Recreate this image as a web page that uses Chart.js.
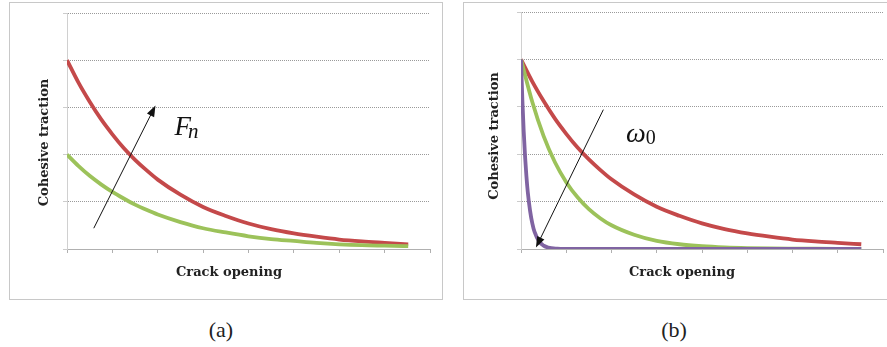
<!DOCTYPE html>
<html>
<head>
<meta charset="utf-8">
<script src="https://cdn.jsdelivr.net/npm/chart.js@4.4.1/dist/chart.umd.min.js"></script>
<style>
    html, body { margin: 0; padding: 0; background: #fff; overflow: hidden; }
    body { width: 887px; height: 347px; position: relative; }
    .box { position: absolute; border: 1px solid #c8c8c8; background: #fff; }
    .box canvas { position: absolute; left: 0; top: 0; }
    .caption { position: absolute; width: 60px; text-align: center; font: 22px "Liberation Serif", serif; color: #222; line-height: 22px; }
</style>
</head>
<body>
<div class="box" style="left:9px;top:2px;width:432px;height:296px">
    <canvas id="chartA" width="432" height="296"></canvas>
</div>
<div class="box" style="left:463px;top:2px;width:432px;height:296px">
    <canvas id="chartB" width="423" height="296"></canvas>
</div>
<div class="caption" style="left:191px;top:319px">(a)</div>
<div class="caption" style="left:644px;top:319px">(b)</div>

<script>
// values (crack opening in x-tick units, traction in gridline units)
const crackOpening = [0, 0.25, 0.5, 0.75, 1, 1.25, 1.5, 1.75, 2, 2.5, 3, 3.5, 4, 4.5, 5, 5.5, 6, 6.5, 7, 7.52];
const tractionRed = [4.00, 3.53, 3.12, 2.75, 2.43, 2.14, 1.89, 1.67, 1.47, 1.15, 0.89, 0.70, 0.54, 0.42, 0.33, 0.26, 0.20, 0.16, 0.13, 0.10];
const tractionGreenA = [2.00, 1.76, 1.55, 1.37, 1.21, 1.07, 0.94, 0.83, 0.73, 0.57, 0.44, 0.35, 0.27, 0.21, 0.17, 0.13, 0.10, 0.08, 0.07, 0.06];
const tractionGreenB = [4.00, 3.10, 2.38, 1.83, 1.41, 1.09, 0.84, 0.65, 0.50, 0.30, 0.17, 0.10, 0.06, 0.035, 0.02, 0.012, 0.008, 0.005, 0.003, 0.002];

const crackOpeningFine = [0, 0.03, 0.06, 0.09, 0.12, 0.15, 0.2, 0.25, 0.3, 0.4, 0.5, 0.6, 0.8, 1, 1.5, 2, 3, 4, 5, 6, 7, 7.52];
const tractionPurple = [4.00, 3.15, 2.48, 1.95, 1.53, 1.20, 0.81, 0.54, 0.36, 0.16, 0.07, 0.03, 0.006, 0.001, 0, 0, 0, 0, 0, 0, 0, 0];

const xTicks = [0, 1, 2, 3, 4, 5, 6, 7, 8];
const yTicks = [0, 1, 2, 3, 4, 5];

const RED = '#C4494A';
const GREEN = '#9CC25A';
const PURPLE = '#8064A2';

function toPoints(xs, ys) {
    return xs.map((x, i) => ({ x: x, y: ys[i] }));
}

function curve(xs, ys, color) {
    return {
        data: toPoints(xs, ys),
        borderColor: color,
        backgroundColor: color,
        borderWidth: 3.8,
        pointRadius: 0,
        cubicInterpolationMode: 'monotone',
        fill: false,
    };
}

/* titles, arrow and symbol drawn on top */
const annotatePlugin = {
    id: 'annotate',
    afterDraw(chart, args, opts) {
        const { ctx } = chart;
        const sx = chart.scales.x;
        const sy = chart.scales.y;

        ctx.save();
        ctx.fillStyle = '#222';
        ctx.font = 'bold 13px "DejaVu Serif"';
        ctx.textBaseline = 'alphabetic';
        ctx.textAlign = 'center';
        ctx.fillText(opts.xTitle.text, opts.xTitle.x, opts.xTitle.y);

        ctx.save();
        ctx.translate(opts.yTitle.x, opts.yTitle.y);
        ctx.rotate(-Math.PI / 2);
        ctx.fillText(opts.yTitle.text, 0, 0);
        ctx.restore();

        // arrow
        const x1 = sx.getPixelForValue(opts.arrow.from[0]);
        const y1 = sy.getPixelForValue(opts.arrow.from[1]);
        const x2 = sx.getPixelForValue(opts.arrow.to[0]);
        const y2 = sy.getPixelForValue(opts.arrow.to[1]);
        const ang = Math.atan2(y2 - y1, x2 - x1);
        const headLen = 11, headW = 4;
        ctx.strokeStyle = '#111';
        ctx.fillStyle = '#111';
        ctx.lineWidth = 1;
        ctx.beginPath();
        ctx.moveTo(x1, y1);
        ctx.lineTo(x2 - Math.cos(ang) * headLen * 0.8, y2 - Math.sin(ang) * headLen * 0.8);
        ctx.stroke();
        ctx.beginPath();
        ctx.moveTo(x2, y2);
        ctx.lineTo(x2 - Math.cos(ang) * headLen - Math.sin(ang) * headW, y2 - Math.sin(ang) * headLen + Math.cos(ang) * headW);
        ctx.lineTo(x2 - Math.cos(ang) * headLen + Math.sin(ang) * headW, y2 - Math.sin(ang) * headLen - Math.cos(ang) * headW);
        ctx.closePath();
        ctx.fill();

        // symbol with subscript
        const lx = sx.getPixelForValue(opts.symbol.at[0]);
        const ly = sy.getPixelForValue(opts.symbol.at[1]);
        ctx.textAlign = 'left';
        ctx.font = opts.symbol.font;
        ctx.fillText(opts.symbol.text, lx, ly);
        const w = ctx.measureText(opts.symbol.text).width;
        ctx.font = opts.symbol.subFont;
        ctx.fillText(opts.symbol.sub, lx + w + opts.symbol.subDx, ly + opts.symbol.subDy);
        ctx.restore();
    }
};

function initChart(id, datasets, padding, annotate) {
    const ctx = document.getElementById(id).getContext('2d');

    const config = {
        type: 'line',
        data: { datasets: datasets },
        options: {
            responsive: false,
            animation: false,
            devicePixelRatio: 1,
            layout: { padding: padding },
            plugins: {
                legend: { display: false },
                tooltip: { enabled: false },
                annotate: annotate,
            },
            scales: {
                x: {
                    type: 'linear',
                    min: xTicks[0],
                    max: xTicks[xTicks.length - 1],
                    afterBuildTicks: (scale) => { scale.ticks = xTicks.map((v) => ({ value: v })); },
                    afterFit: (scale) => { scale.height = 50; },
                    ticks: { display: false },
                    grid: { drawOnChartArea: false, drawTicks: true, tickLength: 4, color: '#b0b0b0' },
                    border: { display: true, color: '#b0b0b0', width: 1 },
                },
                y: {
                    type: 'linear',
                    min: yTicks[0],
                    max: yTicks[yTicks.length - 1],
                    afterBuildTicks: (scale) => { scale.ticks = yTicks.map((v) => ({ value: v })); },
                    afterFit: (scale) => { scale.width = 57; },
                    ticks: { display: false },
                    grid: { drawOnChartArea: true, drawTicks: true, tickLength: 4, color: '#9a9a9a', tickColor: '#cccccc' },
                    border: { display: true, color: '#d0d0d0', width: 1, dash: [1, 1] },
                },
            },
        },
        plugins: [annotatePlugin],
    };

    return new Chart(ctx, config);
}

initChart('chartA', [
    curve(crackOpening, tractionGreenA, GREEN),
    curve(crackOpening, tractionRed, RED),
], { top: 10, right: 12, bottom: 0, left: 0 }, {
    xTitle: { text: 'Crack opening', x: 219, y: 273 },
    yTitle: { text: 'Cohesive traction', x: 38, y: 139.5 },
    arrow: { from: [0.59, 0.44], to: [1.95, 3.04] },
    symbol: { text: 'F', sub: 'n', at: [2.37, 2.41], font: 'italic 27px "Liberation Serif"', subFont: 'italic 21px "Liberation Serif"', subDx: -3, subDy: 3 },
});

initChart('chartB', [
    curve(crackOpeningFine, tractionPurple, PURPLE),
    curve(crackOpening, tractionGreenB, GREEN),
    curve(crackOpening, tractionRed, RED),
], { top: 9, right: 4, bottom: 0, left: 0 }, {
    xTitle: { text: 'Crack opening', x: 218, y: 273 },
    yTitle: { text: 'Cohesive traction', x: 33.5, y: 133 },
    arrow: { from: [1.82, 2.94], to: [0.33, 0.03] },
    symbol: { text: 'ω', sub: '0', at: [2.32, 2.25], font: 'italic 28px "Liberation Serif"', subFont: '20px "Liberation Serif"', subDx: 0, subDy: 2 },
});
</script>
</body>
</html>
